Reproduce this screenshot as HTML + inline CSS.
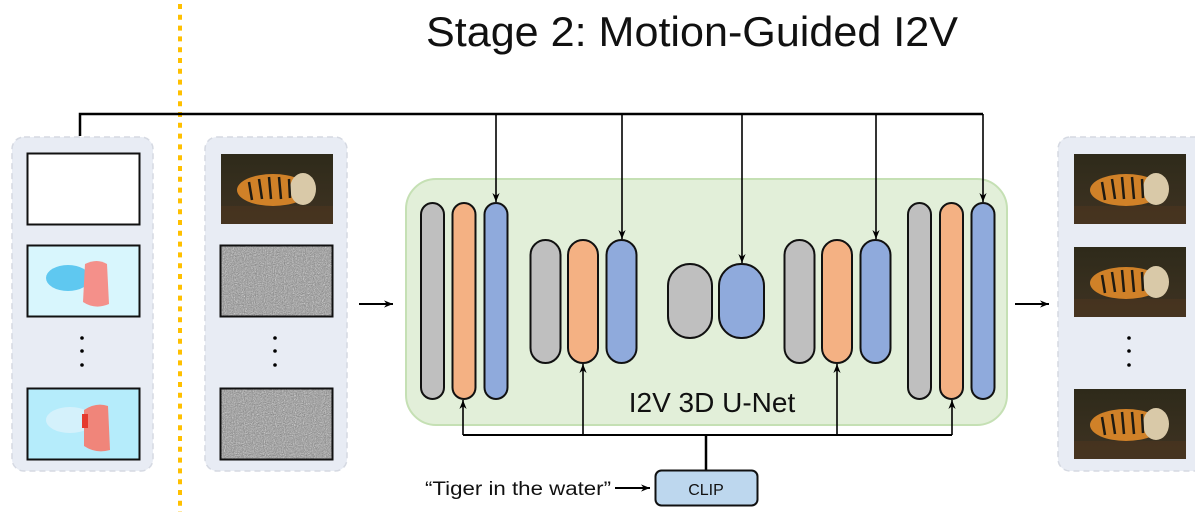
<!DOCTYPE html>
<html><head><meta charset="utf-8"><style>
html,body{margin:0;padding:0;background:#fff;width:1195px;height:514px;overflow:hidden}
svg{display:block}
text{font-family:"Liberation Sans",sans-serif}
</style></head><body>
<svg width="1195" height="514" viewBox="0 0 1195 514" xmlns="http://www.w3.org/2000/svg">
<defs>
<filter id="noise" x="0" y="0" width="100%" height="100%">
<feTurbulence type="fractalNoise" baseFrequency="0.9" numOctaves="2" seed="3"/>
<feColorMatrix type="saturate" values="0"/>
<feComponentTransfer><feFuncR type="linear" slope="1.4" intercept="-0.15"/><feFuncG type="linear" slope="1.4" intercept="-0.15"/><feFuncB type="linear" slope="1.4" intercept="-0.15"/></feComponentTransfer>
</filter>
<marker id="ah" viewBox="0 0 10 10" refX="10" refY="5" markerWidth="9" markerHeight="9" orient="auto-start-reverse" markerUnits="userSpaceOnUse"><path d="M0,1 L10,5 L0,9 L3,5 z" fill="#000"/></marker>
<linearGradient id="water" x1="0" y1="0" x2="0" y2="1"><stop offset="0" stop-color="#2e2a1a"/><stop offset="1" stop-color="#3f3322"/></linearGradient>
<g id="tiger">
<rect width="112" height="70" fill="url(#water)"/>
<ellipse cx="52" cy="36" rx="36" ry="16" fill="#d08128"/>
<ellipse cx="82" cy="35" rx="13" ry="16" fill="#d9c9a8"/>
<path d="M28 28 l3 18 M38 25 l3 20 M48 23 l2 22 M58 23 l2 22 M68 25 l1 19" stroke="#1e1a12" stroke-width="2.5"/>
<rect y="52" width="112" height="18" fill="#4a3520" opacity="0.7"/>
</g>
</defs>
<text x="692" y="46" font-size="42" text-anchor="middle" fill="#111" textLength="532" lengthAdjust="spacingAndGlyphs">Stage 2: Motion-Guided I2V</text>
<line x1="180" y1="4" x2="180" y2="512" stroke="#ffc000" stroke-width="4" stroke-dasharray="5,5.8"/>
<rect x="12" y="137" width="141" height="334" rx="12" fill="#e8ecf4" stroke="#d5d9e2" stroke-width="1.5" stroke-dasharray="6,4"/>
<rect x="205" y="137" width="142" height="334" rx="12" fill="#e8ecf4" stroke="#d5d9e2" stroke-width="1.5" stroke-dasharray="6,4"/>
<rect x="1058" y="137" width="150" height="334" rx="12" fill="#e8ecf4" stroke="#d5d9e2" stroke-width="1.5" stroke-dasharray="6,4"/>
<rect x="27.5" y="153.5" width="112" height="71" fill="#fff" stroke="#111" stroke-width="2"/>
<rect x="27.5" y="245.5" width="112" height="71" fill="#d8f6fd" stroke="#111" stroke-width="2"/>
<ellipse cx="68" cy="278" rx="22" ry="13" fill="#5fc8f0"/>
<path d="M85 264 q12 -6 22 0 l2 40 q-14 6 -26 -2 z" fill="#f4908a"/>
<rect x="27.5" y="388.5" width="112" height="71" fill="#b5ecfb" stroke="#111" stroke-width="2"/>
<ellipse cx="70" cy="420" rx="24" ry="13" fill="#d4f1fb"/>
<path d="M84 410 q12 -8 24 -4 l2 44 q-14 4 -26 -4 z" fill="#f0857a"/>
<rect x="82" y="414" width="6" height="14" fill="#e53a2e"/>
<circle cx="82" cy="338" r="1.8"/><circle cx="82" cy="351" r="1.8"/><circle cx="82" cy="365" r="1.8"/>
<use href="#tiger" x="221" y="154"/>
<rect x="220.5" y="245.5" width="112" height="71" fill="#888" stroke="#111" stroke-width="2"/>
<rect x="221.5" y="246.5" width="110" height="69" filter="url(#noise)"/>
<rect x="220.5" y="388.5" width="112" height="71" fill="#888" stroke="#111" stroke-width="2"/>
<rect x="221.5" y="389.5" width="110" height="69" filter="url(#noise)"/>
<circle cx="275" cy="338" r="1.8"/><circle cx="275" cy="351" r="1.8"/><circle cx="275" cy="365" r="1.8"/>
<use href="#tiger" x="1074" y="154"/>
<use href="#tiger" x="1074" y="247"/>
<use href="#tiger" x="1074" y="389"/>
<circle cx="1129" cy="338" r="1.8"/><circle cx="1129" cy="351" r="1.8"/><circle cx="1129" cy="365" r="1.8"/>
<line x1="359" y1="304" x2="393" y2="304" stroke="#000" stroke-width="2" marker-end="url(#ah)"/>
<line x1="1015" y1="304" x2="1049" y2="304" stroke="#000" stroke-width="2" marker-end="url(#ah)"/>
<rect x="406" y="179" width="601" height="246" rx="30" fill="#e2efd9" stroke="#c5e0b4" stroke-width="2"/>
<g stroke="#111" stroke-width="2">
<rect x="421" y="203" width="23" height="196" rx="11.5" fill="#bfbfbf"/>
<rect x="452.5" y="203" width="23" height="196" rx="11.5" fill="#f4b183"/>
<rect x="484.5" y="203" width="23" height="196" rx="11.5" fill="#8faadc"/>
<rect x="530.5" y="240" width="30" height="123" rx="15" fill="#bfbfbf"/>
<rect x="568" y="240" width="30" height="123" rx="15" fill="#f4b183"/>
<rect x="606.5" y="240" width="30" height="123" rx="15" fill="#8faadc"/>
<rect x="668" y="264" width="44" height="74" rx="22" fill="#bfbfbf"/>
<rect x="719" y="264" width="45" height="74" rx="22" fill="#8faadc"/>
<rect x="784.5" y="240" width="30" height="123" rx="15" fill="#bfbfbf"/>
<rect x="822" y="240" width="30" height="123" rx="15" fill="#f4b183"/>
<rect x="860.5" y="240" width="30" height="123" rx="15" fill="#8faadc"/>
<rect x="908" y="203" width="23" height="196" rx="11.5" fill="#bfbfbf"/>
<rect x="940" y="203" width="23" height="196" rx="11.5" fill="#f4b183"/>
<rect x="971.5" y="203" width="23" height="196" rx="11.5" fill="#8faadc"/>
</g>
<text x="712" y="412" font-size="28" text-anchor="middle" fill="#111">I2V 3D U-Net</text>
<polyline points="80,136 80,114 983,114" fill="none" stroke="#000" stroke-width="2.5"/>
<g stroke="#000" stroke-width="1.6" fill="none">
<line x1="496" y1="114" x2="496" y2="202" marker-end="url(#ah)"/>
<line x1="622" y1="114" x2="622" y2="239" marker-end="url(#ah)"/>
<line x1="742" y1="114" x2="742" y2="263" marker-end="url(#ah)"/>
<line x1="876" y1="114" x2="876" y2="239" marker-end="url(#ah)"/>
<line x1="983" y1="114" x2="983" y2="202" marker-end="url(#ah)"/>
<polyline points="463,435 952,435" stroke-width="2"/>
<line x1="463" y1="435" x2="463" y2="400" marker-end="url(#ah)"/>
<line x1="583" y1="435" x2="583" y2="364" marker-end="url(#ah)"/>
<line x1="837" y1="435" x2="837" y2="364" marker-end="url(#ah)"/>
<line x1="952" y1="435" x2="952" y2="400" marker-end="url(#ah)"/>
<line x1="706" y1="435" x2="706" y2="470" stroke-width="2.5"/>
<line x1="615" y1="488" x2="650" y2="488" stroke-width="2" marker-end="url(#ah)"/>
</g>
<rect x="655.5" y="470.5" width="102" height="35" rx="6" fill="#bdd7ee" stroke="#111" stroke-width="2"/>
<text x="706" y="495" font-size="16" text-anchor="middle" fill="#111">CLIP</text>
<text x="425" y="495" font-size="19" fill="#111" textLength="186" lengthAdjust="spacingAndGlyphs">“Tiger in the water”</text>
</svg>
</body></html>
